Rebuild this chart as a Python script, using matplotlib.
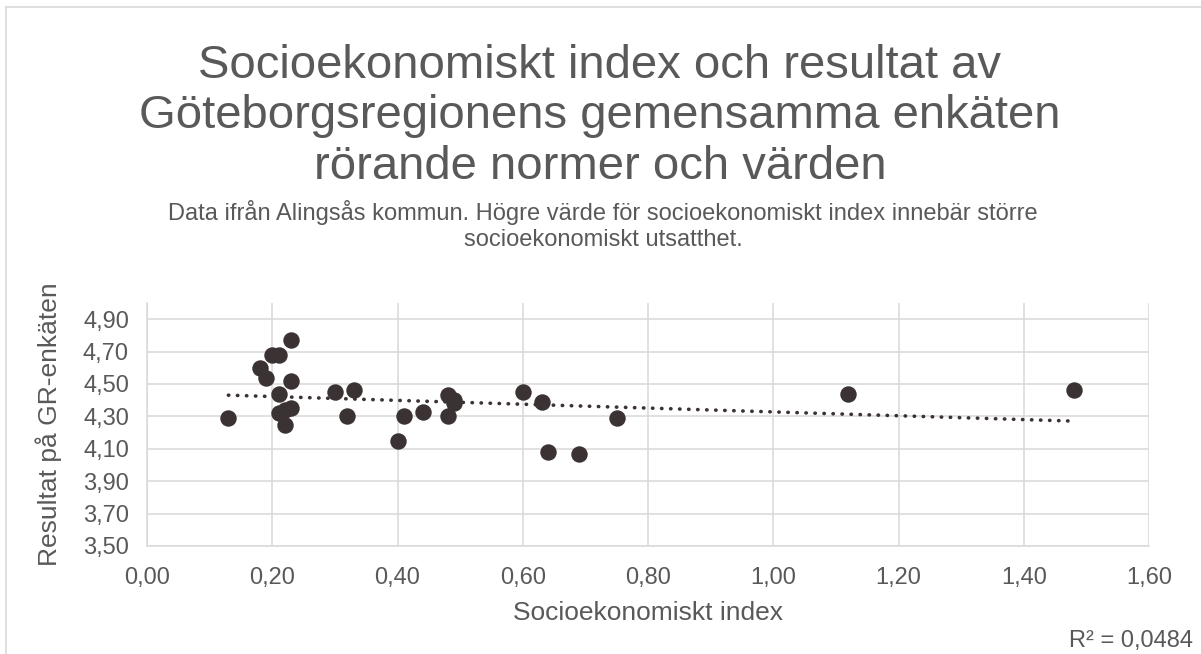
import numpy as np
from matplotlib import pyplot as plt
from matplotlib.ticker import FuncFormatter
from matplotlib.lines import Line2D

"""Scatter of socioeconomic index vs GR survey result, Alingsås"""

# socioekonomiskt index (x) and resultat på GR-enkäten (y)
socio_index = [0.13, 0.18, 0.19, 0.20, 0.21, 0.23, 0.23, 0.21, 0.21, 0.22,
               0.23, 0.22, 0.30, 0.33, 0.32, 0.40, 0.41, 0.44, 0.48, 0.49,
               0.49, 0.48, 0.60, 0.63, 0.64, 0.69, 0.75, 1.12, 1.48]
gr_result = [4.29, 4.60, 4.54, 4.68, 4.68, 4.77, 4.52, 4.44, 4.32, 4.34,
             4.35, 4.25, 4.45, 4.46, 4.30, 4.15, 4.30, 4.33, 4.43, 4.40,
             4.38, 4.30, 4.45, 4.39, 4.08, 4.07, 4.29, 4.44, 4.46]

x_ticks = [0.0, 0.2, 0.4, 0.6, 0.8, 1.0, 1.2, 1.4, 1.6]
y_ticks = [3.5, 3.7, 3.9, 4.1, 4.3, 4.5, 4.7, 4.9]
r2_text = "R² = 0,0484"

title_lines = ["Socioekonomiskt index och resultat av",
               "Göteborgsregionens gemensamma enkäten",
               "rörande normer och värden"]
subtitle_lines = ["Data ifrån Alingsås kommun. Högre värde för socioekonomiskt index innebär större",
                  "socioekonomiskt utsatthet."]

plt.rcParams['font.family'] = ['Liberation Sans', 'DejaVu Sans']
text_color = '#595959'
grid_color = '#D9D9D9'
dot_color = '#3B3233'

W, H = 1201, 654
fig = plt.figure(figsize=(W / 100, H / 100), dpi=100)

# chart frame (Excel chart area border)
fig.add_artist(Line2D([6 / W, 1.0], [1 - 7 / H] * 2, color=grid_color, lw=1.2))
fig.add_artist(Line2D([6 / W] * 2, [0.0, 1 - 7 / H], color=grid_color, lw=1.2))

ax = fig.add_axes([147 / W, 108 / H, (1149 - 147) / W, (546 - 303) / H])
ax.set_xlim(0, 1.6)
ax.set_ylim(3.5, 5.0)
ax.set_xticks(x_ticks)
ax.set_yticks(y_ticks)
comma = FuncFormatter(lambda v, pos: f"{v:.2f}".replace('.', ','))
ax.xaxis.set_major_formatter(comma)
ax.yaxis.set_major_formatter(comma)
ax.tick_params(length=0, labelsize=17, labelcolor=text_color)
ax.tick_params(axis='x', pad=15)
ax.tick_params(axis='y', pad=13)

ax.grid(True, color=grid_color, linewidth=1.1, zorder=0)
ax.set_axisbelow(True)
for side in ['top', 'right']:
    ax.spines[side].set_visible(False)
for side in ['left', 'bottom']:
    ax.spines[side].set_color(grid_color)
    ax.spines[side].set_linewidth(1.1)

# data points
ax.scatter(socio_index, gr_result, s=140, color=dot_color, zorder=3, linewidths=0)

# linear trendline over the data range
slope, intercept = np.polyfit(socio_index, gr_result, 1)
tx = np.array([min(socio_index), max(socio_index)])
ax.plot(tx, slope * tx + intercept, color=dot_color, linewidth=2.6,
        linestyle=(0, (0.1, 2.4)), dash_capstyle='round', zorder=4)

ax.set_xlabel("Socioekonomiskt index", fontsize=19, color=text_color, va='center')
ax.xaxis.set_label_coords(0.5, (546 - 613) / 243)
ax.set_ylabel("Resultat på GR-enkäten", fontsize=19, color=text_color, va='center')
ax.yaxis.set_label_coords((49 - 147) / 1002, 0.5)

for line, base in zip(title_lines, [78, 128, 179]):
    fig.text(600 / W, 1 - base / H, line, ha='center', va='baseline', fontsize=34,
             color=text_color)
for line, base in zip(subtitle_lines, [220, 246]):
    fig.text(603 / W, 1 - base / H, line, ha='center', va='baseline', fontsize=17,
             color=text_color)
fig.text(1193 / W, 1 - 641 / H, r2_text, ha='right', va='center', fontsize=17,
         color=text_color)

fig.savefig('out.png', dpi=100)
